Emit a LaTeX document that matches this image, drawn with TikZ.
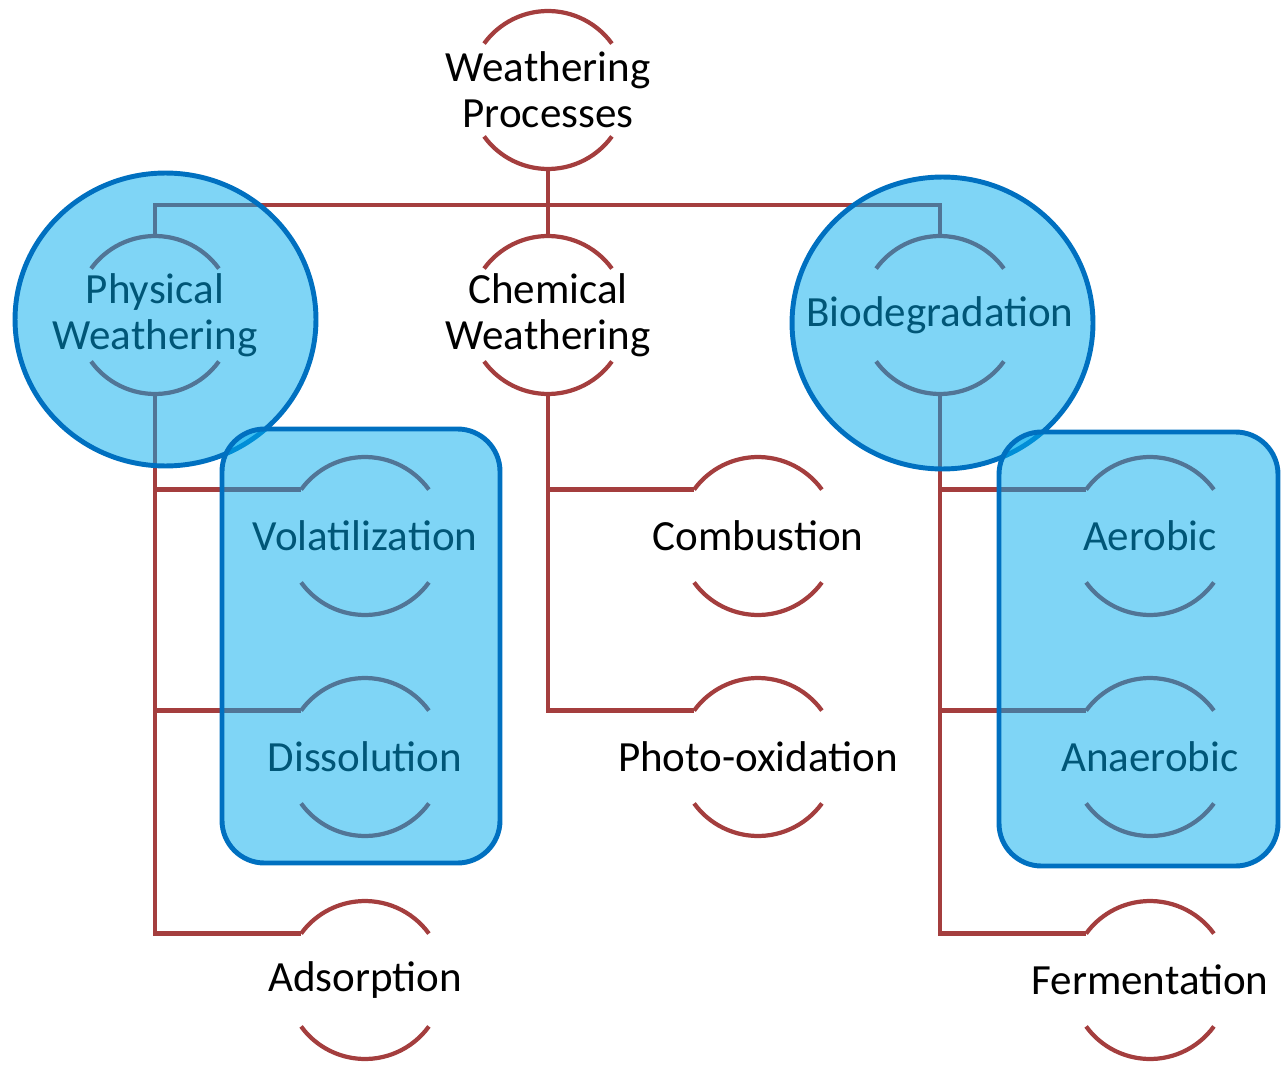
\documentclass[tikz,border=0pt]{standalone}
\usepackage{fontspec}
\setmainfont{Carlito}
\definecolor{linkred}{RGB}{164,62,62}
\definecolor{blobfill}{RGB}{0,172,238}
\definecolor{blobline}{RGB}{0,112,192}

\begin{document}
\begin{tikzpicture}[x=0.02cm,y=0.02cm,
  proc/.style={circle,minimum size=3.16cm,inner sep=0pt,outer sep=0pt},
  every label/.style={align=center,font=\fontsize{24.5}{26}\selectfont,inner sep=0pt},
  link/.style={linkred,line width=2.4pt},
  blob/.style={fill=blobfill,fill opacity=0.5,draw=blobline,line width=2.8pt}]
\useasboundingbox (0,0) rectangle (1287,-1074);
% process nodes
\node[proc,label=center:{Weathering\\Processes}] (wp) at (548,-90) {};
\node[proc,label=center:{Physical\\Weathering}] (phys) at (155,-315) {};
\node[proc,label=center:{Chemical\\Weathering}] (chem) at (548,-315) {};
\node[proc,label=center:Biodegradation] (bio) at (940,-315) {};
\node[proc,label=center:Volatilization] (vol) at (365,-536) {};
\node[proc,label=center:Dissolution] (dis) at (365,-757) {};
\node[proc,label=center:Adsorption] (ads) at (365,-980) {};
\node[proc,label=center:Combustion] (comb) at (758,-536) {};
\node[proc,label=center:Photo-oxidation] (photo) at (758,-757) {};
\node[proc,label=center:Aerobic] (aer) at (1150,-536) {};
\node[proc,label=center:Anaerobic] (anaer) at (1150,-757) {};
\node[proc,label=center:Fermentation] (ferm) at (1150,-980) {};
\foreach \n in {wp,phys,chem,bio,vol,dis,ads,comb,photo,aer,anaer,ferm}
  \draw[link] (\n.36) arc[start angle=36,end angle=144,radius=1.58cm]
    (\n.324) arc[start angle=-36,end angle=-144,radius=1.58cm];
% connectors
\draw[link] (wp.south) -- ++(0,-36) -| (phys.north)
  (wp.south) -- ++(0,-36) -| (bio.north) (wp.south) -- (chem.north);
\draw[link] (phys.south) |- (vol.144) (phys.south) |- (dis.144)
  (phys.south) |- (ads.144);
\draw[link] (chem.south) |- (comb.144) (chem.south) |- (photo.144);
\draw[link] (bio.south) |- (aer.144) (bio.south) |- (anaer.144)
  (bio.south) |- (ferm.144);
% highlights
\draw[blob] (165.5,-319.5) ellipse[x radius=3.01cm,y radius=2.93cm];
\draw[blob] (942.5,-323) ellipse[x radius=3.01cm,y radius=2.92cm];
\draw[blob,rounded corners=0.85cm] (222,-429) rectangle (500,-863);
\draw[blob,rounded corners=0.85cm] (999,-432) rectangle (1278,-866);
\end{tikzpicture}
\end{document}
